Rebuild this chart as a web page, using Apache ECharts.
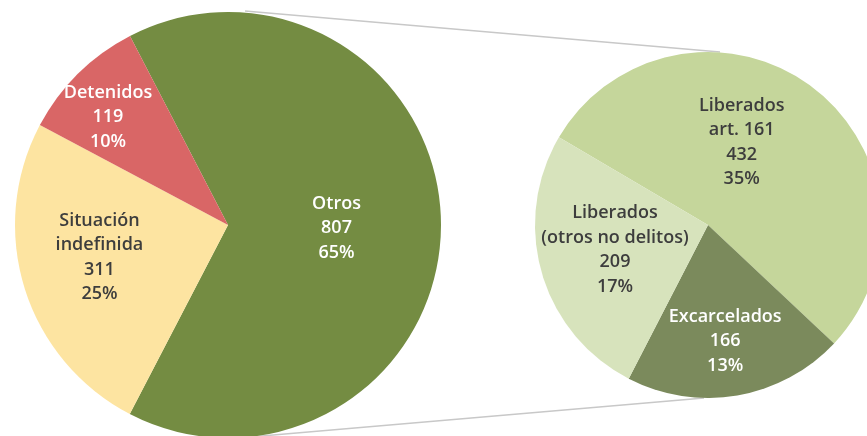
<!DOCTYPE html>
<html>
<head>
<meta charset="utf-8">
<script src="https://cdn.jsdelivr.net/npm/echarts@6/dist/echarts.min.js"></script>
<style>
  html, body { margin: 0; padding: 0; background: #fff; }
  #chart { width: 867px; height: 436px; }
</style>
</head>
<body>
<div id="chart"></div>
<script>
// main pie
const mainNames = ['Otros', 'Situación\nindefinida', 'Detenidos'];
const mainValues = [807, 311, 119];
// breakdown of "Otros"
const subNames = ['Liberados\nart. 161', 'Excarcelados', 'Liberados\n(otros no delitos)'];
const subValues = [432, 166, 209];

const total = mainValues.reduce((a, b) => a + b, 0);

const mainColors = ['#748c42', '#fde4a1', '#d96666'];
const subColors = ['#c5d69b', '#7b8a5c', '#d7e3bc'];
const mainText = ['#ffffff', '#3d3d3d', '#ffffff'];
const subText = ['#3d3d3d', '#ffffff', '#3d3d3d'];
// nudges from the default inside label position
const mainNudge = [[-1, 3], [-24, 0], [-43, -30]];
const subNudge = [[-20, -11], [2, 28], [-7, 0]];

const L = {cx: 228, cy: 225, r: 213};
const R = {cx: 708, cy: 225, r: 173};

const pct = v => Math.round(v / total * 100) + '%';
const fmt = p => p.name + '\n' + p.value + '\n' + pct(p.value);

const labelStyle = {
    position: 'inside',
    formatter: fmt,
    fontSize: 18,
    fontWeight: 600,
    lineHeight: 24.5,
    fontFamily: 'Open Sans',
    align: 'center'
};

const chart = echarts.init(document.getElementById('chart'));

const option = {
    animation: false,
    backgroundColor: '#ffffff',
    textStyle: {fontFamily: 'Open Sans'},
    graphic: [
        {
            type: 'line',
            shape: {x1: L.cx + 17, y1: L.cy - L.r - 1, x2: R.cx + 12, y2: R.cy - R.r},
            style: {stroke: '#c8c8c8', lineWidth: 1.5},
            z: -1
        },
        {
            type: 'line',
            shape: {x1: L.cx + 22, y1: L.cy + L.r - 1, x2: R.cx - 4, y2: R.cy + R.r},
            style: {stroke: '#c8c8c8', lineWidth: 1.5},
            z: -1
        }
    ],
    series: [
        {
            type: 'pie',
            center: [L.cx, L.cy],
            radius: [0, L.r],
            startAngle: 117.4,
            clockwise: true,
            silent: true,
            data: mainNames.map((n, i) => ({
                name: n, value: mainValues[i],
                itemStyle: {color: mainColors[i]},
                label: {color: mainText[i]}
            })),
            label: labelStyle,
            labelLine: {show: false},
            labelLayout: p => ({dx: mainNudge[p.dataIndex][0], dy: mainNudge[p.dataIndex][1]})
        },
        {
            type: 'pie',
            center: [R.cx, R.cy],
            radius: [0, R.r],
            startAngle: 149.5,
            clockwise: true,
            silent: true,
            data: subNames.map((n, i) => ({
                name: n, value: subValues[i],
                itemStyle: {color: subColors[i]},
                label: {color: subText[i]}
            })),
            label: labelStyle,
            labelLine: {show: false},
            labelLayout: p => ({dx: subNudge[p.dataIndex][0], dy: subNudge[p.dataIndex][1]})
        }
    ]
};

option && chart.setOption(option);
</script>
</body>
</html>
